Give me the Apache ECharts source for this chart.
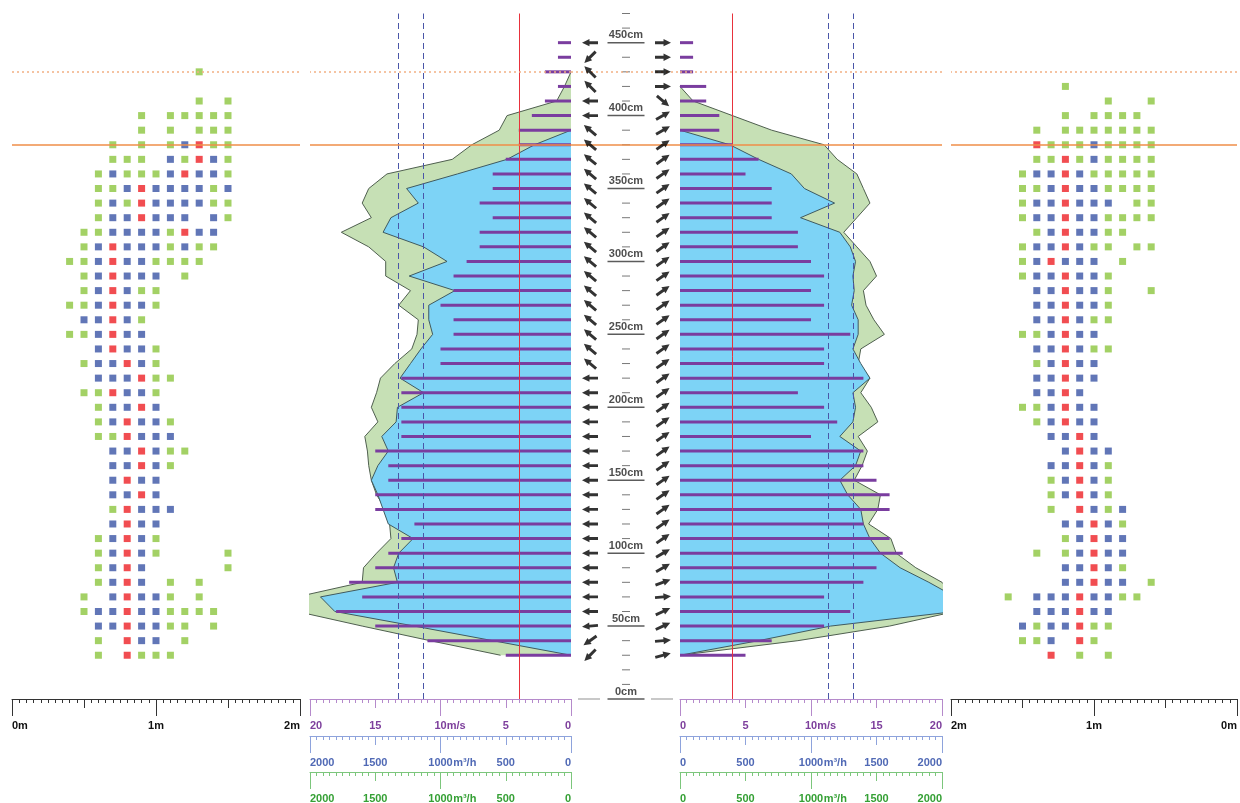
<!DOCTYPE html>
<html><head><meta charset="utf-8">
<script src="https://cdn.jsdelivr.net/npm/echarts/dist/echarts.min.js"></script>
<style>html,body{margin:0;padding:0;background:#fff}#c{width:1240px;height:803px}</style>
</head><body><div id="c"></div><script>
// ---------------- DATA ----------------
const heights = [0,10,20,30,40,50,60,70,80,90,100,110,120,130,140,150,160,170,180,190,200,210,220,230,240,250,260,270,280,290,300,310,320,330,340,350,360,370,380,390,400,410,420,430,440,450,460,470];
const rowHeights = [450,440,430,420,410,400,390,380,370,360,350,340,330,320,310,300,290,280,270,260,250,240,230,220,210,200,190,180,170,160,150,140,130,120,110,100,90,80,70,60,50,40,30];

// wind speed bars (m/s), rows top->bottom
const leftSpeed  = [1,1,2,1,2,3,4,4,5,6,6,7,6,7,7,8,9,9,10,9,9,10,10,13,13,13,13,13,15,14,14,15,15,12,13,14,15,17,16,18,15,11,5];
const rightSpeed = [1,1,1,2,2,3,3,4,6,5,7,7,7,9,9,10,11,10,11,10,13,11,11,14,9,11,12,10,14,14,15,16,16,14,16,17,15,14,11,13,11,7,5];

// flow envelopes (in m/s scale units), rows top->bottom
const leftGreen  = [null,null,0,0.5,1.1,4.9,5.5,7.6,9.1,14.1,15.5,16,15.3,17.6,15.5,14.2,14.2,12.3,13.2,11.7,11.8,12.2,13.5,14.6,14.9,15.3,14.8,15.8,15.6,15.5,15.3,14.9,14.2,13.9,13.8,14.9,15.9,16,21,21,16,10.8,5.4];
const leftBlue   = [null,null,null,null,null,null,0,2.8,4.9,8.7,12.6,11.7,13.8,14.4,11.3,9.5,12.4,8.9,10.9,10.9,10.6,11.5,12.3,13.1,11.3,13.3,13.4,14.5,14,14.8,15.3,14.8,14.4,14,12.1,13.2,13.6,13.3,19.2,18.1,12,6,0];
const rightGreen = [null,null,null,0,1,4,7,11,12,13.5,14,14.5,13.5,12.5,13.5,14.5,15,14,14.2,14.8,15.6,13.8,13.6,14.5,13.8,14.6,15.1,13.6,14.3,13.9,13.3,15.3,15.1,14.4,16.1,16.5,18,20,21,21,16,9,0];
const rightBlue  = [null,null,null,null,null,null,0,3.8,6,8.5,9.5,11.8,9.2,12.2,13,13.4,13.2,13.3,13.1,13.6,13.6,13.2,13.8,14.5,13.2,13.4,13.2,12.2,13.8,13.4,12.2,12.8,13.8,14,14.5,15.3,16.8,19,21,21,11.5,6,0];

// direction arrows (degrees, counter-clockwise from east), rows top->bottom
const leftDir  = [180,225,135,135,180,180,140,140,140,140,140,140,140,140,140,140,140,140,140,140,140,140,140,180,180,180,180,180,180,180,180,180,180,180,180,180,180,180,180,180,185,215,225];
const rightDir = [0,0,0,0,-40,30,30,35,35,35,35,35,35,35,35,35,35,35,35,35,35,35,35,35,35,35,35,35,35,35,35,35,35,35,35,30,30,20,5,25,25,5,15];

// reference lines
const redLine = 4;            // m/s
const dashedLines = [11.3, 13.2];
const solidLevel = 380;       // cm
const dottedLevel = 430;      // cm

// axis ticks / labels
const speedTicks = [0,5,10,15,20];
const speedText  = ['0','5','10m/s','15','20'];
const flowTicks  = [0,500,1000,1500,2000];
const flowText   = ['0','500','1000m³/h','1500','2000'];
const lenTicks   = [0,0.5,1,1.5,2];
const lenText    = ['0m','','1m','','2m'];
const cmLabelHeights = [0,50,100,150,200,250,300,350,400,450];
const cmDashHeights  = [10,20,30,40,60,70,80,90,110,120,130,140,160,170,180,190,210,220,230,240,260,270,280,290,310,320,330,340,360,370,380,390,410,420,430,440,460,470];

// dot grids: G green, B blue, R red
const leftDotCols = [0.4,0.5,0.6,0.7,0.8,0.9,1.0,1.1,1.2,1.3,1.4,1.5];
const leftDotRows = [430,420,410,400,390,380,370,360,350,340,330,320,310,300,290,280,270,260,250,240,230,220,210,200,190,180,170,160,150,140,130,120,110,100,90,80,70,60,50,40,30];
const leftDotPattern = [
".........G..","............",".........G.G",".....G.GGGGG",".....G.G.GGG","...G.G.GBRGG","...GGG.BGRBG","..GBGGGBRBBG",
"..GGBRBBBBGB","..GBGRBBBBGG","..GBBRBBB.BG",".GGBBBBGRBB.",".GBRBBBGBGG.","GGBRBBGGGG..",".GBRBBB.G...",".GBRBGG.....",
"GGBRBBG.....",".BBRBG......","GGBRBB......","..BRBBG.....",".GBBRBG.....","..BBBRGG....",".GGRBBG.....","..GBBRB.....",
"..GBRBBG....","..GGRBBB....","...BBRBGG...","...BBRBG....","...BRBB.....","...BBRB.....","...GRBBB....","...BRBB.....",
"..GBRBG.....","..GBRBG....G","..GBRB.....G","..GBRB.G.G..",".G.BRBBG.G..",".GBBRBBGGGG.","..BBRBBGG.G.","..G.RBB.G...","..G.RGGG...."];
const rightDotCols = [0.6,0.7,0.8,0.9,1.0,1.1,1.2,1.3,1.4,1.5,1.6];
const rightDotRows = [420,410,400,390,380,370,360,350,340,330,320,310,300,290,280,270,260,250,240,230,220,210,200,190,180,170,160,150,140,130,120,110,100,90,80,70,60,50,40,30];
const rightDotPattern = [
"......G....","G..G.......",".GGGG.G....","GGGGGGG.G..","GGGGBGGGR..","GGGGBGRGG..","GGGGGBRBBG.","GGGGBBRBGG.",
"GG.BBBRBBG.","GGGGBBRBBG.","..GGBBRBG..","GG.GGBRBBG.","..G.BBBRBG.","...GBBRBBG.","G..GBBRBB..","...GBBRBB..",
"...GGBRBB..","....BBRBGG.","...GGBRBB..","....BBRBG..","....BBRBB..",".....BRBB..","....BBRBGG.","....BBRBG..",
"....BRBB...","...BBRB....","...GBRBB...","...GBRBG...","...GBRBG...","..BGBR.G...","..GBRBB....","..BBRBG....",
"..BBRBG.G..","..GBRBB....","G.BBRBB....",".GGBBRBBB.G","...BBRBBB..","...GGRBBGB.","....GR.BGG.","...G.G.R..."];

// ---------------- HELPERS ----------------
const heightCats = heights.map(String);
function toCats(vals){ const a = heights.map(()=>null); rowHeights.forEach((h,i)=>{ a[heights.indexOf(h)] = vals[i]; }); return a; }
function dots(pattern, rows, cols, ch){ const out=[]; pattern.forEach((s,r)=>{ for(let c=0;c<s.length;c++){ if(s[c]===ch) out.push([cols[c], rows[r]]); } }); return out; }
function arrows(dirs, x){ return rowHeights.map((h,i)=>({value:[x,h], symbolRotate:dirs[i]})); }

const FONT = '"Liberation Sans", Arial, sans-serif';
const TOP = 13.5, BOTTOM = 104;
const C = { purpleLine:'#b58acb', purpleText:'#7d3f9c', blueLine:'#8ea3dc', blueText:'#5069b5', greenLine:'#7cc67c', greenText:'#35a035', black:'#333', blackText:'#111' };
const ORANGE = '#ef8e48', ORANGE_DOT = '#f2b084';

function fmt(ticks, texts, split){
  return function(v){
    const i = ticks.findIndex(t=>Math.abs(t-v)<1e-6); if(i<0) return '';
    const s = texts[i]; if(!s) return '';
    const m = s.match(/^([\d.]+)(\D.*)$/);
    if(split && m) return '{p|}{n|'+m[1]+'}{u|'+m[2]+'}';
    return '{n|'+s+'}';
  };
}
function axes(grid, min, max, interval, longInterval, inverse, offset, lineColor, textColor, ticks, texts, unitW, alignMin, alignMax){
  const base = {fontSize:11, fontWeight:'bold', fontFamily:FONT, color:textColor};
  return [{
    type:'value', gridIndex:grid, min, max, interval, inverse, position:'bottom', offset,
    axisLine:{show:true, onZero:false, lineStyle:{color:lineColor, width:1}},
    axisTick:{show:true, length:9, lineStyle:{color:lineColor, width:1}},
    minorTick:{show:true, splitNumber:10, length:4, lineStyle:{color:lineColor, width:1}},
    splitLine:{show:false}, minorSplitLine:{show:false},
    axisLabel:Object.assign({show:true, margin:21, formatter:fmt(ticks,texts,unitW>0), alignMinLabel:alignMin, alignMaxLabel:alignMax,
      rich:{n:base, u:Object.assign({width:unitW, align:'left'},base), p:Object.assign({width:unitW},base)}}, base)
  },{
    type:'value', gridIndex:grid, min, max, interval:longInterval, inverse, position:'bottom', offset,
    axisLine:{show:false, onZero:false}, axisTick:{show:true, length:17, lineStyle:{color:lineColor, width:1}},
    axisLabel:{show:false}, splitLine:{show:false}
  }];
}
function hLines(cat){
  const v1 = cat ? String(solidLevel) : solidLevel, v2 = cat ? String(dottedLevel) : dottedLevel;
  return [{yAxis:v1, lineStyle:{color:ORANGE, width:1.5, type:'solid'}},{yAxis:v2, lineStyle:{color:ORANGE_DOT, width:1.5, type:[2,3]}}];
}
function vLines(){
  return [{xAxis:redLine, lineStyle:{color:'#e8323c', width:1, type:'solid'}}].concat(
    dashedLines.map(v=>({xAxis:v, lineStyle:{color:'#4a56a8', width:1, type:[6,4]}})));
}
function markLine(data){ return {silent:true, symbol:'none', label:{show:false}, animation:false, data}; }

const gridBase = {top:TOP, bottom:BOTTOM, outerBoundsMode:'none', containLabel:false};
const grids = [
  Object.assign({left:12, width:288}, gridBase),
  Object.assign({left:310, width:261}, gridBase),
  Object.assign({left:571, width:109}, gridBase),
  Object.assign({left:680, width:262}, gridBase),
  Object.assign({left:951, width:286}, gridBase)
];

const xAxes = [].concat(
  axes(0,0,2,0.5,1,false,0,C.black,C.blackText,lenTicks,lenText,0,'left','right'),
  axes(1,0,20,5,10,true,0,C.purpleLine,C.purpleText,speedTicks,speedText,19,'right','left'),
  axes(1,0,2000,500,1000,true,37,C.blueLine,C.blueText,flowTicks,flowText,24,'right','left'),
  axes(1,0,2000,500,1000,true,73,C.greenLine,C.greenText,flowTicks,flowText,24,'right','left'),
  [{type:'value', gridIndex:2, min:0, max:109, show:false}],
  axes(3,0,20,5,10,false,0,C.purpleLine,C.purpleText,speedTicks,speedText,19,'left','right'),
  axes(3,0,2000,500,1000,false,37,C.blueLine,C.blueText,flowTicks,flowText,24,'left','right'),
  axes(3,0,2000,500,1000,false,73,C.greenLine,C.greenText,flowTicks,flowText,24,'left','right'),
  axes(4,0,2,0.5,1,true,0,C.black,C.blackText,lenTicks,lenText,0,'right','left')
);
const yAxes = [
  {type:'value', gridIndex:0, min:0, max:470, show:false},
  {type:'category', gridIndex:1, data:heightCats, boundaryGap:false, show:false},
  {type:'value', gridIndex:2, min:0, max:470, show:false},
  {type:'category', gridIndex:3, data:heightCats, boundaryGap:false, show:false},
  {type:'value', gridIndex:4, min:0, max:470, show:false}
];

const DOTC = {G:'#8cc63f', B:'#3a54a5', R:'#ee2026'};
function dotSeries(xi, yi, pattern, rows, cols, withLines){
  return ['G','B','R'].map((ch,k)=>({
    type:'scatter', xAxisIndex:xi, yAxisIndex:yi, symbol:'rect', symbolSize:7, z:3,
    itemStyle:{color:DOTC[ch]}, data:dots(pattern, rows, cols, ch), silent:true,
    markLine: (k===0 && withLines) ? markLine(hLines(false)) : undefined
  }));
}
function midSeries(xi, yi, green, blue, speed){
  return [
    {type:'line', xAxisIndex:xi, yAxisIndex:yi, data:toCats(green), symbol:'none', z:2, silent:true,
      lineStyle:{color:'#4f5f4f', width:1}, areaStyle:{color:'#c6e0b5', opacity:1}},
    {type:'line', xAxisIndex:xi, yAxisIndex:yi, data:toCats(blue), symbol:'none', z:3, silent:true,
      lineStyle:{color:'#3f5a60', width:1}, areaStyle:{color:'#7dd3f6', opacity:1}},
    {type:'bar', xAxisIndex:xi, yAxisIndex:yi, data:toCats(speed), barWidth:3, z:4, silent:true,
      itemStyle:{color:'#7a3d9f'},
      markLine:markLine(vLines().concat(hLines(true)))}
  ];
}
const ARROW = 'path://M0,3 L8,3 L8,0 L15,5 L8,10 L8,7 L0,7 Z';

const series = [].concat(
  dotSeries(0,0,leftDotPattern,leftDotRows,leftDotCols,true),
  midSeries(2,1,leftGreen,leftBlue,leftSpeed),
  midSeries(9,3,rightGreen,rightBlue,rightSpeed),
  dotSeries(15,4,rightDotPattern,rightDotRows,rightDotCols,true),
  [
    {type:'scatter', xAxisIndex:8, yAxisIndex:2, symbol:'rect', symbolSize:[8,1], silent:true, z:2,
      itemStyle:{color:'#555'}, data:cmDashHeights.map(h=>[55,h]), markLine:markLine(hLines(false))},
    {type:'scatter', xAxisIndex:8, yAxisIndex:2, symbol:'rect', symbolSize:[37,1.5], silent:true, z:2,
      itemStyle:{color:'#333'}, data:cmLabelHeights.map(h=>[55,h]),
      label:{show:true, position:'top', distance:1, formatter:p=>p.value[1]+'cm', fontSize:11, fontWeight:'bold', fontFamily:FONT, color:'#222'}},
    {type:'scatter', xAxisIndex:8, yAxisIndex:2, symbol:'rect', symbolSize:[22,1], silent:true, z:2,
      itemStyle:{color:'#777'}, data:[[18,0],[91,0]]},
    {type:'scatter', xAxisIndex:8, yAxisIndex:2, symbol:ARROW, symbolSize:[16,11], symbolKeepAspect:true, silent:true, z:5,
      itemStyle:{color:'#000'}, data:arrows(leftDir,19)},
    {type:'scatter', xAxisIndex:8, yAxisIndex:2, symbol:ARROW, symbolSize:[16,11], symbolKeepAspect:true, silent:true, z:5,
      itemStyle:{color:'#000'}, data:arrows(rightDir,92)}
  ]
);

const chart = echarts.init(document.getElementById('c'));
chart.setOption({animation:false, backgroundColor:'#fff', grid:grids, xAxis:xAxes, yAxis:yAxes, series});
</script></body></html>
